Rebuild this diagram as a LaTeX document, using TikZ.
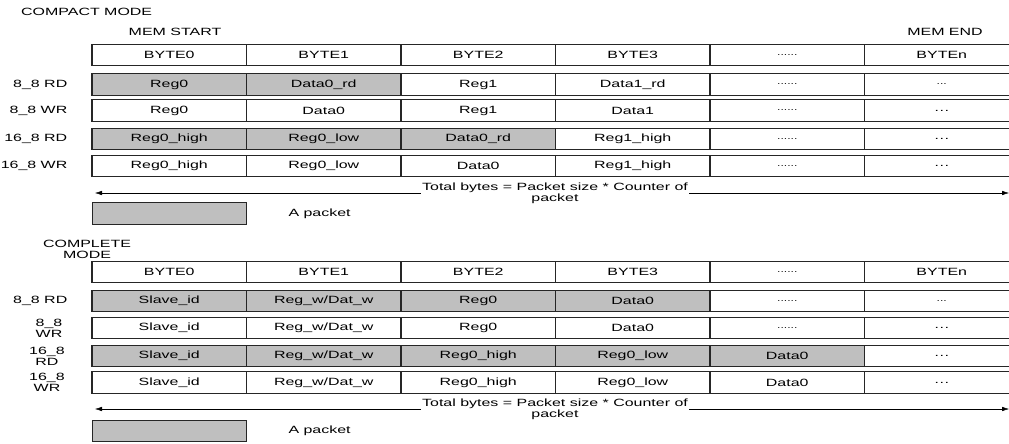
\documentclass[tikz,border=0pt]{standalone}
\usepackage{fontspec}
\setmainfont[FakeStretch=1.52]{Liberation Sans}
\usetikzlibrary{positioning,arrows.meta}
\newcommand\tabfont{\fontsize{10.5}{11}\selectfont}
\newcommand\sixdot{{\fontsize{8}{9}\selectfont......}}
\newcommand\tridot{{\fontsize{8}{9}\selectfont...}}
\begin{document}
\begin{tikzpicture}[x=1pt, y=-1pt, >={Latex[length=7pt,width=4.5pt]},
  cell/.style={draw=black!85, line width=1.1pt, minimum width=154.5pt, minimum height=21.5pt, inner sep=0pt, font=\tabfont},
  rowlbl/.style={font=\tabfont, align=center, inner sep=0pt},
  pktbox/.style={cell, fill=black!25}]
\useasboundingbox (0,0) rectangle (1009,444);
\clip (0,0) rectangle (1009,444);
% titles
\node[rowlbl, anchor=west] (cmode) at (21,12) {COMPACT MODE};
\node[rowlbl] (mstart) at (175,32) {MEM START};
\node[rowlbl] (mend) at (945,32) {MEM END};
\node[rowlbl] (fmode) at (87,249.5) {COMPLETE\\MODE};
% the two tables
\foreach \rw/\y/\ng/\cells in {
  ch/55/0/{BYTE0,BYTE1,BYTE2,BYTE3,\sixdot,BYTEn},
  ca/84.5/2/{Reg0,Data0\_rd,Reg1,Data1\_rd,\sixdot,\tridot},
  cb/110.5/0/{Reg0,Data0,Reg1,Data1,\sixdot,\dots},
  cc/139/3/{Reg0\_high,Reg0\_low,Data0\_rd,Reg1\_high,\sixdot,\dots},
  cd/166/0/{Reg0\_high,Reg0\_low,Data0,Reg1\_high,\sixdot,\dots},
  fh/272/0/{BYTE0,BYTE1,BYTE2,BYTE3,\sixdot,BYTEn},
  fa/301/4/{Slave\_id,Reg\_w/Dat\_w,Reg0,Data0,\sixdot,\tridot},
  fb/328/0/{Slave\_id,Reg\_w/Dat\_w,Reg0,Data0,\sixdot,\dots},
  fc/356/5/{Slave\_id,Reg\_w/Dat\_w,Reg0\_high,Reg0\_low,Data0,\dots},
  fd/382.5/0/{Slave\_id,Reg\_w/Dat\_w,Reg0\_high,Reg0\_low,Data0,\dots}}
  \foreach \t [count=\i] in \cells {
    \ifnum\i>\ng \def\cfill{white}\else\def\cfill{black!25}\fi
    \node[cell, fill=\cfill] (\rw-\i) at ({92+154.5*(\i-0.5)},\y) {\t};
  }
% row labels
\node[rowlbl, anchor=east] (lca) at (67.5,84.5) {8\_8 RD};
\node[rowlbl, anchor=east] (lcb) at (67.5,110.5) {8\_8 WR};
\node[rowlbl, anchor=east] (lcc) at (67.5,139) {16\_8 RD};
\node[rowlbl, anchor=east] (lcd) at (67.5,166) {16\_8 WR};
\node[rowlbl, anchor=east] (lfa) at (67.5,301) {8\_8 RD};
\node[rowlbl] (lfb) at (49,328) {8\_8\\WR};
\node[rowlbl] (lfc) at (47,356) {16\_8\\RD};
\node[rowlbl] (lfd) at (47,382.5) {16\_8\\WR};
% total bytes arrows
\foreach \k/\y in {1/193, 2/409} {
  \coordinate (al\k) at (95,\y);
  \coordinate (ar\k) at (1009,\y);
  \node[rowlbl, inner xsep=1pt] (tb\k) at (555,\y) {Total bytes = Packet size * Counter of\\packet};
  \draw[<-] (al\k) -- (al\k -| tb\k.west);
  \draw[->] (tb\k.east |- ar\k) -- (ar\k);
}
% legend
\node[pktbox] (pk1) at (169.5,213.5) {};
\node[rowlbl, right=41pt of pk1] (pl1) {A packet};
\node[pktbox] (pk2) at (169.5,431) {};
\node[rowlbl, right=41pt of pk2] (pl2) {A packet};
\end{tikzpicture}
\end{document}
